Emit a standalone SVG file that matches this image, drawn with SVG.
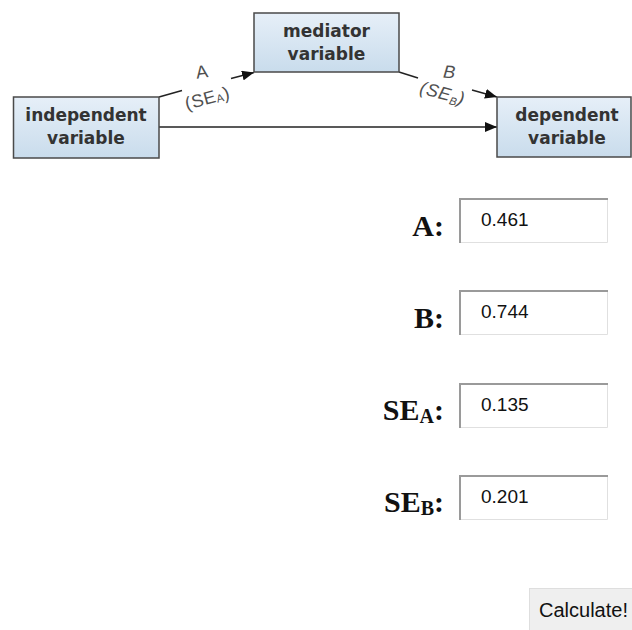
<svg xmlns="http://www.w3.org/2000/svg" width="632" height="630" viewBox="0 0 632 630">
<style>
.node rect{fill:url(#bg);stroke:#4a4a4a;stroke-width:1.5}
.node text{font-family:"DejaVu Sans",Verdana,sans-serif;font-weight:bold;font-size:17px;fill:#333;text-anchor:middle}
.conn{stroke:#222;stroke-width:1.5;fill:none}
.lbl{font-family:"Liberation Sans",Arial,sans-serif;font-size:18px;fill:#505050;text-anchor:middle;letter-spacing:0.5px}
.flabel{font-family:"Liberation Serif","Times New Roman",serif;font-weight:bold;font-size:30px;fill:#111;text-anchor:end}
.val{font-family:"Liberation Sans",Arial,sans-serif;font-size:19px;fill:#111}
.inbox{fill:#fff}
.dk{stroke:#9a9a9a;stroke-width:2;fill:none}
.lt{stroke:#e0e0e0;stroke-width:1;fill:none}
</style>
<defs>
<linearGradient id="bg" x1="0" y1="0" x2="0" y2="1">
<stop offset="0" stop-color="#e6eff8"/>
<stop offset="1" stop-color="#c9dcec"/>
</linearGradient>
<marker id="ah" viewBox="0 0 12 10" refX="12" refY="5" markerWidth="12" markerHeight="10" orient="auto" markerUnits="userSpaceOnUse">
<path d="M0,0 L12,5 L0,10 z" fill="#111"/>
</marker>
</defs>
<rect width="632" height="630" fill="#fff"/>
<g id="connectors">
<line class="conn" x1="159" y1="127" x2="497" y2="127" marker-end="url(#ah)"/>
<path class="conn" d="M159,97 L182,90.5"/>
<path class="conn" d="M231,78.5 L254,72.5" marker-end="url(#ah)"/>
<path class="conn" d="M399,72 L418,78"/>
<path class="conn" d="M472,90 L497,97" marker-end="url(#ah)"/>
<text class="lbl" transform="translate(203,78) rotate(-8)">A</text>
<text class="lbl" transform="translate(209,104) rotate(-15)">(SE<tspan font-size="11" dy="1">A</tspan><tspan dy="-1">)</tspan></text>
<text class="lbl" font-style="italic" transform="translate(449,78) rotate(5)">B</text>
<text class="lbl" font-style="italic" transform="translate(441,99) rotate(15)">(SE<tspan font-size="11" dy="3">B</tspan><tspan dy="-3">)</tspan></text>
</g>
<g id="independent" class="node">
<rect x="13.5" y="97" width="145.5" height="61"/>
<text x="86" y="121">independent</text>
<text x="86" y="144">variable</text>
</g>
<g id="mediator" class="node">
<rect x="254" y="13" width="145" height="59"/>
<text x="326.5" y="37">mediator</text>
<text x="326.5" y="60">variable</text>
</g>
<g id="dependent" class="node">
<rect x="497" y="97" width="134" height="60"/>
<text x="567" y="121">dependent</text>
<text x="567" y="144">variable</text>
</g>
<g id="field-A">
<text class="flabel" x="444" y="236">A:</text>
<rect class="inbox" x="459" y="198" width="149" height="45"/>
<path class="lt" d="M459,242.5 H607.5 V198"/>
<path class="dk" d="M460,243 V199 H608"/>
<text class="val" x="481" y="226">0.461</text>
</g>
<g id="field-B">
<text class="flabel" x="444" y="328">B:</text>
<rect class="inbox" x="459" y="290" width="149" height="45"/>
<path class="lt" d="M459,334.5 H607.5 V290"/>
<path class="dk" d="M460,335 V291 H608"/>
<text class="val" x="481" y="318">0.744</text>
</g>
<g id="field-SEA">
<text class="flabel" x="444" y="420">SE<tspan font-size="20" dy="3">A</tspan><tspan dy="-3">:</tspan></text>
<rect class="inbox" x="459" y="383" width="149" height="45"/>
<path class="lt" d="M459,427.5 H607.5 V383"/>
<path class="dk" d="M460,428 V384 H608"/>
<text class="val" x="481" y="411">0.135</text>
</g>
<g id="field-SEB">
<text class="flabel" x="444" y="512">SE<tspan font-size="20" dy="3">B</tspan><tspan dy="-3">:</tspan></text>
<rect class="inbox" x="459" y="475" width="149" height="45"/>
<path class="lt" d="M459,519.5 H607.5 V475"/>
<path class="dk" d="M460,520 V476 H608"/>
<text class="val" x="481" y="503">0.201</text>
</g>
<g id="calculate">
<rect x="529.5" y="588.5" width="110" height="50" fill="#efefef" stroke="#dedede"/>
<text x="539" y="617" font-family="'Liberation Sans',Arial,sans-serif" font-size="20" fill="#111">Calculate!</text>
</g>
</svg>
